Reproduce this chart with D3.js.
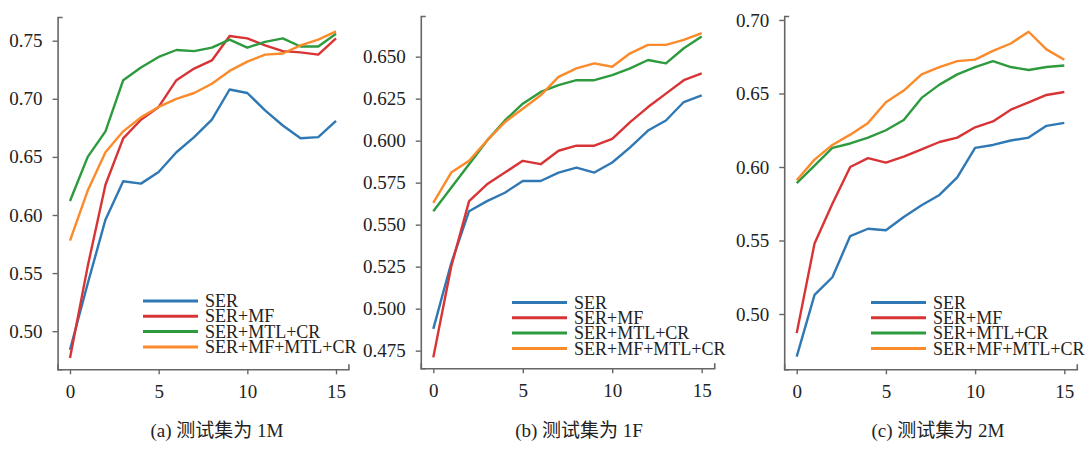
<!DOCTYPE html>
<html lang="zh">
<head>
    <meta charset="UTF-8">
    <title>SER curves</title>
    <style>
        body { margin: 0; background: #fff; }
        text { font-family: "Liberation Serif", "Noto Sans CJK SC", serif; fill: #222; }
    </style>
</head>
<body>
    <div id="chart-container"></div>
    <script src="https://d3js.org/d3.v7.min.js"></script>
    <script>
        const epochs = [0, 1, 2, 3, 4, 5, 6, 7, 8, 9, 10, 11, 12, 13, 14, 15];
        const seriesNames = ["SER", "SER+MF", "SER+MTL+CR", "SER+MF+MTL+CR"];
        const captions = ["(a) 测试集为 1M", "(b) 测试集为 1F", "(c) 测试集为 2M"];

        // (a) test set 1M
        const serA       = [0.484, 0.541, 0.596, 0.629, 0.627, 0.637, 0.654, 0.667, 0.682, 0.708, 0.705, 0.690, 0.677, 0.666, 0.667, 0.681];
        const serMfA     = [0.477, 0.556, 0.626, 0.666, 0.682, 0.693, 0.716, 0.726, 0.733, 0.754, 0.752, 0.746, 0.741, 0.740, 0.738, 0.752];
        const serMtlA    = [0.612, 0.650, 0.672, 0.716, 0.727, 0.736, 0.742, 0.741, 0.744, 0.751, 0.744, 0.749, 0.752, 0.745, 0.745, 0.756];
        const serMfMtlA  = [0.578, 0.621, 0.654, 0.672, 0.684, 0.693, 0.700, 0.705, 0.713, 0.724, 0.732, 0.738, 0.739, 0.746, 0.751, 0.758];
        const ticksA = [0.50, 0.55, 0.60, 0.65, 0.70, 0.75];

        // (b) test set 1F
        const serB       = [0.488, 0.527, 0.558, 0.564, 0.569, 0.576, 0.576, 0.581, 0.584, 0.581, 0.587, 0.596, 0.606, 0.612, 0.623, 0.627];
        const serMfB     = [0.471, 0.525, 0.564, 0.574, 0.581, 0.588, 0.586, 0.594, 0.597, 0.597, 0.601, 0.611, 0.620, 0.628, 0.636, 0.640];
        const serMtlB    = [0.558, 0.572, 0.586, 0.600, 0.612, 0.622, 0.629, 0.633, 0.636, 0.636, 0.639, 0.643, 0.648, 0.646, 0.655, 0.662];
        const serMfMtlB  = [0.563, 0.581, 0.588, 0.600, 0.611, 0.619, 0.627, 0.638, 0.643, 0.646, 0.644, 0.652, 0.657, 0.657, 0.660, 0.664];
        const ticksB = [0.475, 0.500, 0.525, 0.550, 0.575, 0.600, 0.625, 0.650];

        // (c) test set 2M
        const serC       = [0.471, 0.513, 0.525, 0.553, 0.558, 0.557, 0.566, 0.574, 0.581, 0.593, 0.613, 0.615, 0.618, 0.620, 0.628, 0.630];
        const serMfC     = [0.487, 0.548, 0.575, 0.600, 0.606, 0.603, 0.607, 0.612, 0.617, 0.620, 0.627, 0.631, 0.639, 0.644, 0.649, 0.651];
        const serMtlC    = [0.589, 0.601, 0.613, 0.616, 0.620, 0.625, 0.632, 0.647, 0.656, 0.663, 0.668, 0.672, 0.668, 0.666, 0.668, 0.669];
        const serMfMtlC  = [0.591, 0.605, 0.615, 0.622, 0.630, 0.644, 0.652, 0.663, 0.668, 0.672, 0.673, 0.679, 0.684, 0.692, 0.680, 0.673];
        const ticksC = [0.50, 0.55, 0.60, 0.65, 0.70];

        const COLORS = ["#2f78b3", "#d83436", "#2e9a3e", "#fb8a2a"];

        // pixel layout of each panel
        const panels = [
            {series: [serA, serMfA, serMtlA, serMfMtlA], ticks: ticksA, fmt: ".2f", caption: captions[0],
             x0: 70, x15: 336, top: 17, bottom: 369.3, yMin: 0.4672, yMax: 0.7704, legX: 143, legY: 301, capX: 217},
            {series: [serB, serMfB, serMtlB, serMfMtlB], ticks: ticksB, fmt: ".3f", caption: captions[1],
             x0: 433.3, x15: 701.7, top: 16, bottom: 368.3, yMin: 0.4645, yMax: 0.6742, legX: 512, legY: 302.5, capX: 579},
            {series: [serC, serMfC, serMtlC, serMfMtlC], ticks: ticksC, fmt: ".2f", caption: captions[2],
             x0: 796.7, x15: 1064.3, top: 16, bottom: 369.3, yMin: 0.4624, yMax: 0.7027, legX: 871, legY: 302.5, capX: 938}
        ];

        const svg = d3.select("#chart-container").append("svg")
        .attr("width", 1087)
        .attr("height", 449);

        panels.forEach(p => draw(p));

        function draw(p){
            const unit = (p.x15 - p.x0) / 15;
            const x = d3.scaleLinear().domain([-0.7, 15.7])
            .range([p.x0 - 0.7 * unit, p.x15 + 0.7 * unit]);
            const y = d3.scaleLinear().domain([p.yMin, p.yMax])
            .range([p.bottom, p.top]);

            const g = svg.append("g");

            const xAxisCall = d3.axisBottom(x).tickValues([0, 5, 10, 15])
            .tickFormat(d3.format("d")).tickSizeInner(5).tickSizeOuter(-5).tickPadding(10);
            const xAxis = g.append("g").attr("class", "x axis")
            .attr("transform", `translate(0, ${p.bottom})`)
            .call(xAxisCall);

            const yAxisCall = d3.axisLeft(y).tickValues(p.ticks)
            .tickFormat(d3.format(p.fmt)).tickSizeInner(5).tickSizeOuter(-5).tickPadding(10);
            const yAxis = g.append("g").attr("class", "y axis")
            .attr("transform", `translate(${x.range()[0]}, 0)`)
            .call(yAxisCall);

            [xAxis, yAxis].forEach(a => {
                a.select(".domain").attr("stroke", "#666").attr("stroke-width", 1.6);
                a.selectAll(".tick line").attr("stroke", "#666").attr("stroke-width", 1.4);
                a.selectAll(".tick text").attr("font-size", 19).attr("fill", "#222")
                .attr("font-family", "Liberation Serif");
            });

            const line = d3.line()
            .x((d, i) => x(epochs[i]))
            .y(d => y(d));

            p.series.forEach((s, k) => {
                g.append("path")
                .datum(s)
                .attr("fill", "none")
                .attr("stroke", COLORS[k])
                .attr("stroke-width", 2.4)
                .attr("stroke-linejoin", "round")
                .attr("d", line);
            });

            // legend
            const leg = g.append("g").attr("transform", `translate(${p.legX}, ${p.legY})`);
            seriesNames.forEach((name, k) => {
                leg.append("line")
                .attr("x1", 0).attr("x2", 55)
                .attr("y1", k * 15.3).attr("y2", k * 15.3)
                .attr("stroke", COLORS[k])
                .attr("stroke-width", 3);
                leg.append("text")
                .attr("x", 62).attr("y", k * 15.3)
                .attr("dy", "0.34em")
                .attr("font-size", 18)
                .text(name);
            });

            g.append("text")
            .attr("x", p.capX).attr("y", 437)
            .attr("text-anchor", "middle")
            .attr("font-size", 19)
            .text(p.caption);
        }
    </script>
</body>
</html>
